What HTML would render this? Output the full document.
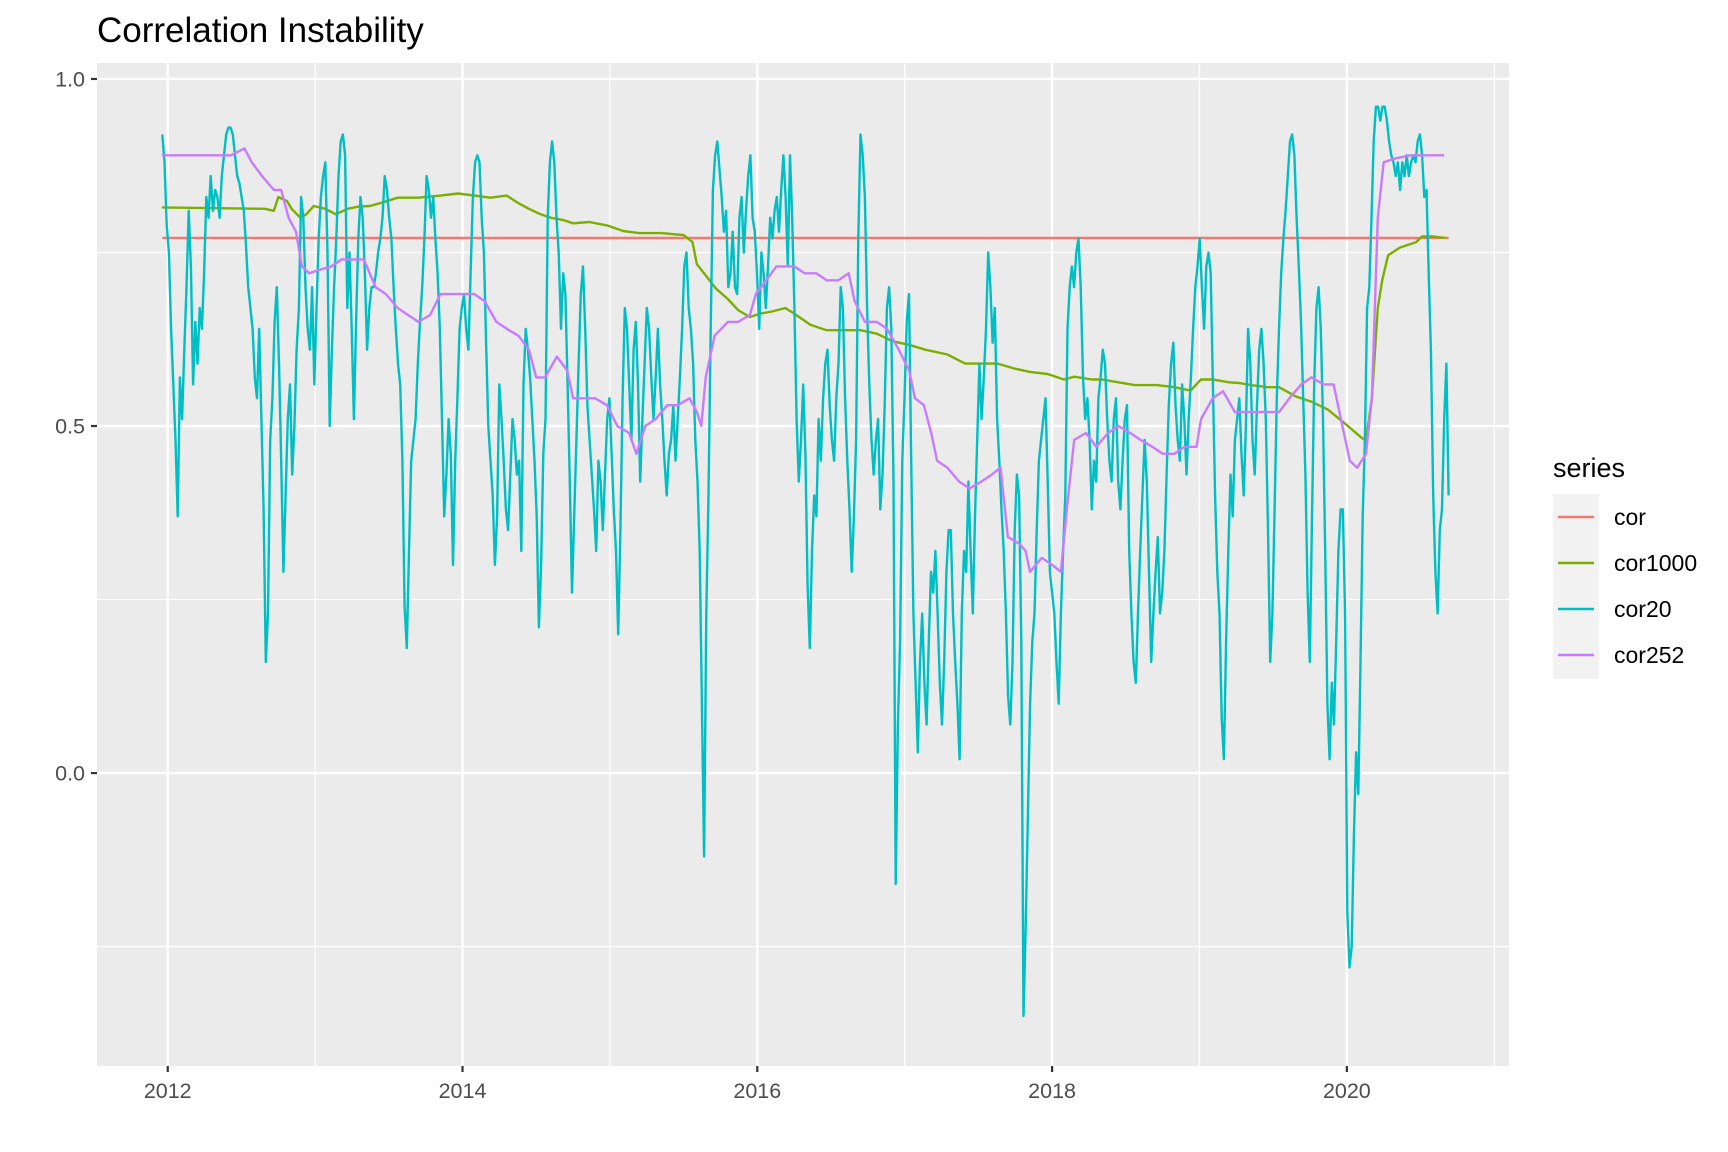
<!DOCTYPE html>
<html><head><meta charset="utf-8"><style>
html,body{margin:0;padding:0;background:#fff;}
svg{display:block;font-family:"Liberation Sans",Arial,sans-serif;}
</style></head><body>
<svg id="chart" width="1728" height="1152" viewBox="0 0 1728 1152">
<text x="97" y="42" font-size="35" fill="#000">Correlation Instability</text>
<rect x="97" y="63" width="1412" height="1003" fill="#ebebeb"/>
<g id="grid"></g>
<g id="axes"></g>
<g id="series"></g>
<g>
<text x="1553" y="477" font-size="27" fill="#000">series</text>
<rect x="1553" y="494" width="46" height="185" fill="#f2f2f2"/>
<line x1="1558" x2="1594" y1="517" y2="517" stroke="#F8766D" stroke-width="2.6"/>
<line x1="1558" x2="1594" y1="563" y2="563" stroke="#7CAE00" stroke-width="2.6"/>
<line x1="1558" x2="1594" y1="609" y2="609" stroke="#00BFC4" stroke-width="2.6"/>
<line x1="1558" x2="1594" y1="655" y2="655" stroke="#C77CFF" stroke-width="2.6"/>
<text x="1614" y="525" font-size="23">cor</text>
<text x="1614" y="571" font-size="23">cor1000</text>
<text x="1614" y="617" font-size="23">cor20</text>
<text x="1614" y="663" font-size="23">cor252</text>
</g>
</svg>
<script>
const xTicks = [2012, 2014, 2016, 2018, 2020];
const xMinor = [2013, 2015, 2017, 2019, 2021];
const yTicks = [0, 0.5, 1.0];
const yTickLabels = ["0.0", "0.5", "1.0"];
const yMinor = [-0.25, 0.25, 0.75];
const corValue = 0.771;
const seriesStart = 2011.963;
const seriesEnd = 2020.69;
const cor20Values = [
0.92,0.88,0.79,0.75,0.64,0.56,0.48,0.37,0.57,0.51,0.61,0.70,0.81,0.73,0.56,0.65,0.59,0.67,0.64,0.72,0.83,0.80,0.86,0.81,0.84,0.83,0.80,0.86,0.89,
0.92,0.93,0.93,0.92,0.89,0.86,0.85,0.83,0.81,0.76,0.70,0.67,0.64,
0.57,0.54,0.64,0.51,0.38,0.16,0.23,0.48,0.54,0.65,0.70,0.59,0.45,0.29,0.40,0.51,0.56,0.43,0.50,0.61,0.67,0.83,0.80,0.70,0.64,0.61,0.70,0.56,0.67,0.77,0.83,0.86,0.88,0.75,0.50,0.61,0.70,0.77,0.86,0.91,0.92,0.89,0.67,0.75,0.64,0.51,0.65,0.77,0.83,0.80,0.72,0.61,0.67,0.70,0.70,0.72,0.75,0.77,0.80,0.86,0.84,0.80,0.77,0.70,0.64,0.59,0.56,0.45,0.24,0.18,0.32,0.45,0.48,0.51,0.59,0.65,0.70,0.77,0.86,0.84,0.80,0.83,0.77,0.72,0.64,0.51,0.37,0.43,0.51,0.46,0.30,0.45,0.54,0.64,0.67,0.69,0.64,0.61,0.72,0.83,0.88,0.89,0.88,0.80,0.75,0.62,0.50,0.45,0.40,0.30,0.37,0.56,0.51,0.45,0.38,0.35,0.43,0.51,0.48,0.43,0.45,0.32,0.56,0.64,0.61,0.57,0.51,0.45,0.37,0.21,0.30,0.46,0.51,0.80,0.88,0.91,0.88,0.80,0.75,0.64,0.72,0.69,0.56,0.42,0.26,0.37,0.48,0.59,0.69,0.73,0.64,0.53,0.48,0.43,0.38,0.32,0.45,0.42,0.35,0.43,0.51,0.54,0.46,0.38,0.32,0.20,0.35,0.54,0.67,0.64,0.56,0.48,0.61,0.65,0.56,0.42,0.51,0.59,0.67,0.64,0.57,0.51,0.57,0.64,0.56,0.51,0.45,0.40,0.46,0.48,0.53,0.45,0.51,0.57,0.64,0.73,0.75,0.67,0.64,0.59,0.48,0.42,0.32,0.10,-0.12,0.23,0.40,0.64,0.84,0.89,0.91,0.87,0.83,0.78,0.81,0.70,0.72,0.78,0.70,0.69,0.80,0.83,0.75,0.81,0.86,0.89,0.80,0.78,0.72,0.64,0.75,0.72,0.67,0.73,0.80,0.77,0.81,0.83,0.78,0.84,0.89,0.83,0.73,0.89,0.80,0.67,0.51,0.42,0.48,0.56,0.46,0.27,0.18,0.32,0.40,0.37,0.51,0.45,0.54,0.59,0.61,0.53,0.48,0.45,0.54,0.59,0.70,0.67,0.54,0.45,0.38,0.29,0.37,0.48,0.77,0.92,0.89,0.83,0.67,0.56,0.48,0.43,0.48,0.51,0.38,0.43,0.53,0.67,0.70,0.64,0.42,-0.16,0.07,0.19,0.45,0.54,0.65,0.69,0.45,0.23,0.13,0.03,0.16,0.23,0.13,0.07,0.19,0.29,0.26,0.32,0.23,0.13,0.07,0.16,0.29,0.35,0.35,0.23,0.16,0.10,0.02,0.23,0.32,0.29,0.42,0.32,0.23,0.37,0.48,0.59,0.51,0.57,0.64,0.75,0.70,0.62,0.67,0.51,0.45,0.38,0.32,0.23,0.11,0.07,0.16,0.35,0.43,0.40,0.19,-0.35,-0.22,-0.06,0.10,0.19,0.23,0.35,0.45,0.48,0.51,0.54,0.42,0.29,0.26,0.23,0.16,0.10,0.23,0.32,0.40,0.64,0.70,0.73,0.70,0.75,0.77,0.70,0.57,0.51,0.54,0.48,0.38,0.45,0.42,0.54,0.57,0.61,0.59,0.51,0.45,0.42,0.51,0.54,0.42,0.38,0.45,0.51,0.53,0.32,0.23,0.16,0.13,0.23,0.32,0.40,0.48,0.42,0.29,0.16,0.23,0.29,0.34,0.23,0.26,0.32,0.43,0.53,0.59,0.62,0.53,0.48,0.45,0.56,0.51,0.43,0.51,0.57,0.64,0.70,0.73,0.77,0.70,0.64,0.73,0.75,0.72,0.56,0.40,0.29,0.23,0.08,0.02,0.19,0.32,0.43,0.37,0.48,0.51,0.54,0.46,0.40,0.50,0.64,0.59,0.48,0.43,0.53,0.61,0.64,0.59,0.51,0.35,0.16,0.23,0.38,0.54,0.64,0.72,0.77,0.81,0.86,0.91,0.92,0.89,0.80,0.73,0.65,0.54,0.43,0.26,0.16,0.37,0.56,0.67,0.70,0.64,0.51,0.32,0.10,0.02,0.13,0.07,0.19,0.32,0.38,0.38,0.23,-0.20,-0.28,-0.25,-0.09,0.03,-0.03,0.16,0.37,0.48,0.67,0.70,0.80,0.91,0.96,0.96,0.94,0.96,0.96,0.94,0.91,0.89,0.88,0.86,0.88,0.84,0.88,0.86,0.89,0.86,0.88,0.89,0.88,0.91,0.92,0.89,0.83,0.84,0.72,0.61,0.40,0.29,0.23,0.35,0.38,0.51,0.59,0.40
];
const cor252Dates = [
2011.96,2012.43,2012.52,2012.57,2012.64,2012.72,2012.77,2012.82,2012.87,2012.91,2012.96,
2013.03,2013.11,2013.18,2013.26,2013.33,2013.41,2013.48,2013.56,2013.63,2013.70,2013.78,2013.85,2013.93,2014.00,2014.08,2014.15,2014.23,2014.30,2014.38,2014.45,
2014.50,2014.56,2014.64,2014.71,2014.75,2014.83,2014.90,2014.98,2015.05,2015.13,2015.18,2015.24,2015.31,2015.39,2015.46,2015.54,2015.59,2015.62,2015.65,2015.71,2015.80,2015.87,2015.95,2015.99,2016.06,2016.13,2016.17,2016.25,2016.32,2016.40,2016.47,2016.55,2016.62,
2016.66,2016.73,2016.81,2016.88,2016.96,2017.03,2017.07,2017.13,2017.18,2017.22,2017.29,2017.37,2017.44,2017.52,2017.59,2017.65,2017.70,2017.78,2017.82,2017.85,2017.89,2017.93,2018.00,2018.06,2018.10,2018.15,2018.23,2018.30,2018.38,2018.45,2018.53,2018.60,2018.68,2018.75,2018.83,2018.90,2018.98,2019.01,2019.09,2019.16,2019.24,2019.31,2019.39,2019.46,2019.54,2019.61,2019.69,2019.76,2019.84,2019.91,2019.97,2020.02,2020.07,2020.13,2020.17,2020.21,2020.25,2020.32,2020.43,2020.55,2020.66
];
const cor252Values = [
0.89,0.89,0.90,0.88,0.86,0.84,0.84,0.80,0.78,0.73,0.72,
0.725,0.73,0.74,0.74,0.74,0.70,0.69,0.67,0.66,0.65,0.66,0.69,0.69,0.69,0.69,0.68,0.65,0.64,0.63,0.61,
0.57,0.57,0.60,0.58,0.54,0.54,0.54,0.53,0.50,0.49,0.46,0.50,0.51,0.53,0.53,0.54,0.52,0.50,0.57,0.63,0.65,0.65,0.66,0.69,0.71,0.73,0.73,0.73,0.72,0.72,0.71,0.71,0.72,
0.68,0.65,0.65,0.64,0.61,0.58,0.54,0.53,0.49,0.45,0.44,0.42,0.41,0.42,0.43,0.44,0.34,0.33,0.32,0.29,0.30,0.31,0.30,0.29,0.38,0.48,0.49,0.47,0.49,0.50,0.49,0.48,0.47,0.46,0.46,0.47,0.47,0.51,0.54,0.55,0.52,0.52,0.52,0.52,0.52,0.54,0.56,0.57,0.56,0.56,0.50,0.45,0.44,0.46,0.54,0.80,0.88,0.885,0.89,0.89,0.89
];
const cor1000Dates = [2011.96,2012.66,2012.72,2012.75,2012.81,2012.84,2012.90,2012.94,2012.99,2013.07,2013.14,2013.22,2013.29,2013.37,2013.44,2013.56,2013.70,2013.85,2013.97,2014.08,2014.19,2014.30,2014.38,2014.45,2014.53,2014.60,2014.68,2014.75,2014.86,2014.98,2015.09,2015.20,2015.35,2015.50,2015.56,2015.59,2015.65,2015.72,2015.80,2015.87,2015.95,2016.02,2016.10,2016.19,2016.25,2016.36,2016.47,2016.58,2016.70,2016.81,2016.92,2017.03,2017.14,2017.29,2017.41,2017.52,2017.63,2017.74,2017.85,2017.97,2018.08,2018.15,2018.27,2018.34,2018.45,2018.56,2018.71,2018.83,2018.94,2019.01,2019.09,2019.20,2019.27,2019.35,2019.46,2019.54,2019.65,2019.76,2019.87,2019.99,2020.10,2020.13,2020.17,2020.21,2020.24,2020.28,2020.36,2020.47,2020.51,2020.58,2020.67];
const cor1000Values = [0.815,0.813,0.81,0.83,0.824,0.813,0.80,0.805,0.817,0.813,0.805,0.813,0.816,0.817,0.821,0.829,0.829,0.832,0.835,0.832,0.829,0.832,0.821,0.813,0.805,0.80,0.797,0.792,0.794,0.789,0.781,0.778,0.778,0.775,0.765,0.733,0.717,0.698,0.683,0.667,0.657,0.662,0.665,0.67,0.662,0.646,0.638,0.638,0.638,0.633,0.622,0.617,0.610,0.603,0.590,0.590,0.590,0.583,0.578,0.575,0.567,0.571,0.567,0.567,0.563,0.559,0.559,0.556,0.551,0.567,0.567,0.563,0.562,0.559,0.556,0.556,0.543,0.535,0.524,0.503,0.483,0.479,0.54,0.67,0.71,0.746,0.757,0.765,0.773,0.773,0.771];

const NS = "http://www.w3.org/2000/svg";
const px0 = 97, px1 = 1509, py0 = 63, py1 = 1066;
const xDom = [2011.52, 2021.10], yDom = [-0.422, 1.023];
function xs(v){ return px0 + (v - xDom[0]) / (xDom[1] - xDom[0]) * (px1 - px0); }
function ys(v){ return py1 - (v - yDom[0]) / (yDom[1] - yDom[0]) * (py1 - py0); }
function mk(tag, attrs, parent){ const e = document.createElementNS(NS, tag); for (const k in attrs) e.setAttribute(k, attrs[k]); parent.appendChild(e); return e; }
const grid = document.getElementById('grid'), axes = document.getElementById('axes'), ser = document.getElementById('series');

yMinor.forEach(v => { const l = mk('line', {x1:px0, x2:px1, y1:ys(v), y2:ys(v), stroke:'#fff', 'stroke-width':1.2}, grid);
  
   });
xMinor.forEach(v => { if (xs(v) > px1) return; const l = mk('line', {x1:xs(v), x2:xs(v), y1:py0, y2:py1, stroke:'#fff', 'stroke-width':1.2}, grid);
  
   });
yTicks.forEach((v, i) => {
  const l = mk('line', {x1:px0, x2:px1, y1:ys(v), y2:ys(v), stroke:'#fff', 'stroke-width':2.4}, grid);
  
  
  const t = mk('line', {x1:px0-6, x2:px0, y1:ys(v), y2:ys(v), stroke:'#333', 'stroke-width':2.2}, axes);
  
  
  const tx = mk('text', {x:px0-12, y:ys(v)+7.5, 'font-size':21.5, fill:'#4d4d4d', 'text-anchor':'end'}, axes);
  tx.textContent = yTickLabels[i];
  
  
});
xTicks.forEach(v => {
  const l = mk('line', {x1:xs(v), x2:xs(v), y1:py0, y2:py1, stroke:'#fff', 'stroke-width':2.4}, grid);
  
  
  const t = mk('line', {x1:xs(v), x2:xs(v), y1:py1, y2:py1+6, stroke:'#333', 'stroke-width':2.2}, axes);
  
  
  const tx = mk('text', {x:xs(v), y:py1+32, 'font-size':21.5, fill:'#4d4d4d', 'text-anchor':'middle'}, axes);
  tx.textContent = String(v);
  
  
});
function path(dates, vals, color, name){
  const n = Math.min(dates.length, vals.length);
  let d = '';
  for (let i = 0; i < n; i++) d += (i ? 'L' : 'M') + xs(dates[i]).toFixed(1) + ',' + ys(vals[i]).toFixed(1);
  const p = mk('path', {d:d, fill:'none', stroke:color, 'stroke-width':2.4, 'stroke-linejoin':'round'}, ser);
  
  
}
path([seriesStart, seriesEnd], [corValue, corValue], '#F8766D', 'line-cor');
path(cor1000Dates, cor1000Values, '#7CAE00', 'line-cor1000');
const cor20Dates = cor20Values.map((_, i) => seriesStart + i * (seriesEnd - seriesStart) / (cor20Values.length - 1));
path(cor20Dates, cor20Values, '#00BFC4', 'line-cor20');
path(cor252Dates, cor252Values, '#C77CFF', 'line-cor252');
</script>
</body></html>
